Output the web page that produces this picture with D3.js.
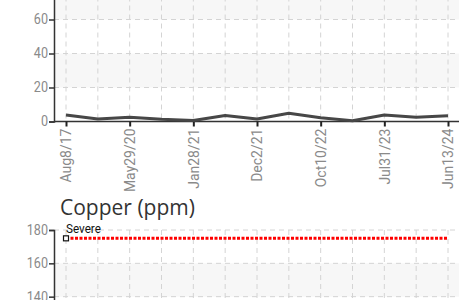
<!DOCTYPE html>
<html>
<head>
<meta charset="utf-8">
<script src="https://cdn.jsdelivr.net/npm/d3@7"></script>
<style>
  html, body { margin: 0; padding: 0; background: #fff; overflow: hidden; }
  svg { display: block; }
  .tick-label { font-family: "Roboto", sans-serif; fill: #8a8a8a; }
  .title { font-family: "Open Sans", "Noto Sans", sans-serif; fill: #333; }
</style>
</head>
<body>
<div id="chart"></div>
<script>
// Sample labels (only every other sample is labelled on the axis)
var sample_labels = ["Aug8/17", "", "May29/20", "", "Jan28/21", "", "Dec2/21", "", "Oct10/22", "", "Jul31/23", "", "Jun13/24"];

// Upper chart (title scrolled out of view)
var upper_values = [3.8, 1.5, 2.5, 1.3, 0.6, 3.5, 1.5, 4.8, 2.2, 0.5, 3.8, 2.5, 3.4];
var upper_ticks  = [0, 20, 40, 60, 80, 100];

// Copper chart
var copper_title  = "Copper (ppm)";
var copper_ticks  = [0, 20, 40, 60, 80, 100, 120, 140, 160, 180];
var copper_limits = [{ name : "Severe", value : 175 }];

var W = 459;
var NARROW = 0.9;   // no condensed font installed, squeeze labels instead

var svg = d3.select("#chart").append("svg")
  .attr("width", W)
  .attr("height", 300);

var x = d3.scalePoint()
  .domain(d3.range(sample_labels.length))
  .range([66, 448]);

// Draws the frame of one chart: bands, grid, axes.
function chart__frame(g, y, ticks, left, right) {
  var top = y(ticks[ticks.length - 1]);
  var bottom = y(ticks[0]);

  // alternating background bands, white at the top
  for (var i = 0; i < ticks.length - 1; i++) {
    var from_top = ticks.length - 2 - i;
    if (from_top % 2 === 1) {
      g.append("rect")
        .attr("x", left)
        .attr("y", y(ticks[i + 1]))
        .attr("width", right - left)
        .attr("height", y(ticks[i]) - y(ticks[i + 1]))
        .attr("fill", "#f7f7f7");
    }
  }

  // horizontal grid
  g.selectAll(".hgrid").data(ticks).enter().append("line")
    .attr("x1", left).attr("x2", right)
    .attr("y1", function (d) { return y(d); })
    .attr("y2", function (d) { return y(d); })
    .attr("stroke", "#d4d4d4")
    .attr("stroke-dasharray", "5,4");

  // vertical grid, one per sample
  g.selectAll(".vgrid").data(x.domain()).enter().append("line")
    .attr("x1", function (d) { return x(d); })
    .attr("x2", function (d) { return x(d); })
    .attr("y1", top).attr("y2", bottom)
    .attr("stroke", "#d4d4d4")
    .attr("stroke-dasharray", "5,4");

  // y axis
  var y_axis = d3.axisLeft(y).tickValues(ticks).tickSize(5).tickPadding(2);
  var ya = g.append("g")
    .attr("transform", "translate(" + left + ",0)")
    .call(y_axis);
  ya.select(".domain").attr("stroke", "#333").attr("stroke-width", 1.5);
  ya.selectAll(".tick line").attr("stroke", "#333").attr("stroke-width", 1.5);
  ya.selectAll(".tick text")
    .attr("class", "tick-label")
    .style("font-size", "14px")
    .attr("x", -6 / NARROW)
    .attr("transform", "scale(" + NARROW + ",1)");
}

// ---------- upper chart ----------
var y_upper = d3.scaleLinear().domain([0, 100]).range([121.5, 121.5 - 170]);
var g1 = svg.append("g");
chart__frame(g1, y_upper, upper_ticks, 54, W);

// x axis
var x_axis = d3.axisBottom(x)
  .tickValues(x.domain().filter(function (d) { return sample_labels[d] !== ""; }))
  .tickFormat(function (d) { return sample_labels[d]; })
  .tickSize(5)
  .tickSizeOuter(0);
var xa = g1.append("g")
  .attr("transform", "translate(0," + y_upper(0) + ")")
  .call(x_axis);
xa.select(".domain").attr("d", "M54,0H" + W).attr("stroke", "#333").attr("stroke-width", 1.5);
xa.selectAll(".tick line").attr("stroke", "#222").attr("stroke-width", 2);
xa.selectAll(".tick text")
  .attr("class", "tick-label")
  .style("font-size", "14px")
  .attr("text-anchor", "end")
  .attr("dy", "0.35em")
  .attr("transform", "translate(0,7) rotate(-90)")
  .attr("x", 0)
  .attr("y", 0);

var upper_line = d3.line()
  .x(function (d, i) { return x(i); })
  .y(function (d) { return y_upper(d); });

g1.append("path")
  .datum(upper_values)
  .attr("d", upper_line)
  .attr("fill", "none")
  .attr("stroke", "#474747")
  .attr("stroke-width", 3)
  .attr("stroke-linejoin", "round");

// ---------- copper chart ----------
svg.append("text")
  .attr("class", "title")
  .attr("x", 60)
  .attr("y", 215)
  .style("font-size", "21px")
  .text(copper_title);

var y_copper = d3.scaleLinear().domain([0, 180]).range([230 + 300, 230]);
var g2 = svg.append("g");
chart__frame(g2, y_copper, copper_ticks, 54, W);

copper_limits.forEach(function (lim) {
  var ly = y_copper(lim.value);
  var x0 = x(0);
  var x1 = x(sample_labels.length - 1);

  g2.append("line")
    .attr("x1", x0).attr("x2", x1)
    .attr("y1", ly).attr("y2", ly)
    .attr("stroke", "#f00")
    .attr("stroke-width", 3)
    .attr("stroke-dasharray", "3,1.5");

  g2.append("rect")
    .attr("x", x0 - 2.5).attr("y", ly - 2.5)
    .attr("width", 5).attr("height", 5)
    .attr("fill", "#fff")
    .attr("stroke", "#111")
    .attr("stroke-width", 1.2);

  g2.append("text")
    .attr("x", x0 / NARROW)
    .attr("y", ly - 5.5)
    .attr("transform", "scale(" + NARROW + ",1)")
    .style("font-family", "Roboto, sans-serif")
    .style("font-size", "13px")
    .attr("fill", "#111")
    .text(lim.name);
});
</script>
</body>
</html>
